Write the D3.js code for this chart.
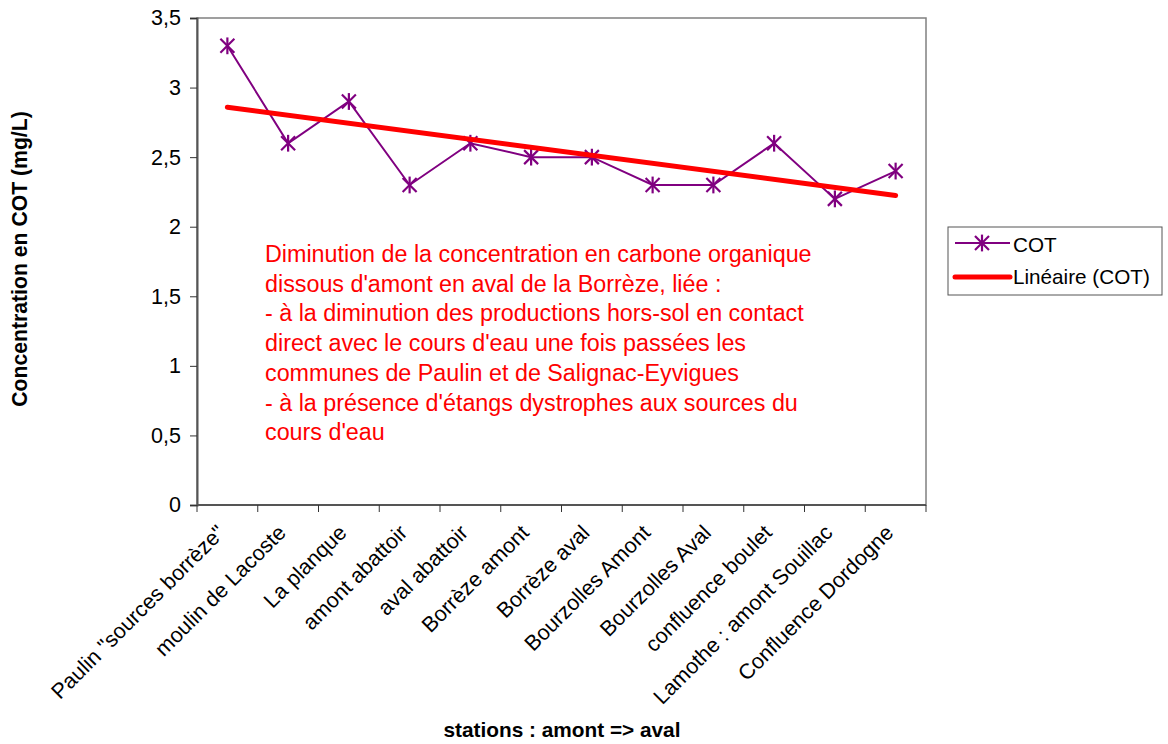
<!DOCTYPE html>
<html>
<head>
<meta charset="utf-8">
<script src="https://cdn.jsdelivr.net/npm/d3@7"></script>
<style>
  html, body { margin: 0; padding: 0; background: #fff; }
  svg { display: block; font-family: Arial, "Liberation Sans", sans-serif; }
</style>
</head>
<body>
<svg id="chart" width="1168" height="744"></svg>
<script>
// Stations from upstream to downstream
const stations = [
  'Paulin "sources borrèze"', "moulin de Lacoste", "La planque", "amont abattoir",
  "aval abattoir", "Borrèze amont", "Borrèze aval", "Bourzolles Amont",
  "Bourzolles Aval", "confluence boulet", "Lamothe : amont Souillac", "Confluence Dordogne"
];
// Total organic carbon (mg/L)
const cot = [3.3, 2.6, 2.9, 2.3, 2.6, 2.5, 2.5, 2.3, 2.3, 2.6, 2.2, 2.4];
const yTicks = [0, 0.5, 1, 1.5, 2, 2.5, 3, 3.5];
const noteLines = [
  "Diminution de la concentration en carbone organique",
  "dissous d'amont en aval de la Borrèze, liée :",
  "- à la diminution des productions hors-sol en contact",
  "direct avec le cours d'eau une fois passées les",
  "communes de Paulin et de Salignac-Eyvigues",
  "- à la présence d'étangs dystrophes aux sources du",
  "cours d'eau"
];

const svg = d3.select("#chart");
const plot = { left: 197, right: 926, top: 18, bottom: 505 };

const x = d3.scaleBand().domain(stations).range([plot.left, plot.right]);
const y = d3.scaleLinear().domain([0, 3.5]).range([plot.bottom, plot.top]);
const fmt = d => String(d).replace(".", ",");

// Plot frame
svg.append("rect")
  .attr("x", plot.left).attr("y", plot.top)
  .attr("width", plot.right - plot.left).attr("height", plot.bottom - plot.top)
  .attr("fill", "none").attr("stroke", "#808080").attr("stroke-width", 1.5);

// Y axis
const yAxis = svg.append("g")
  .attr("transform", `translate(${plot.left},0)`)
  .call(d3.axisLeft(y).tickValues(yTicks).tickFormat(fmt).tickSize(7).tickPadding(9));
yAxis.select(".domain").attr("stroke", "#555").attr("stroke-width", 2);
yAxis.selectAll(".tick line").attr("stroke", "#333");
yAxis.selectAll("text").attr("font-size", 21.5).attr("fill", "#000")
  .attr("font-family", "Arial, 'Liberation Sans', sans-serif");

// X axis: ticks sit on category boundaries
const xAxisG = svg.append("g").attr("transform", `translate(0,${plot.bottom})`);
xAxisG.append("line")
  .attr("x1", plot.left).attr("x2", plot.right)
  .attr("stroke", "#555").attr("stroke-width", 2);
const bounds = stations.map(s => x(s)).concat([plot.right]);
xAxisG.selectAll("line.tk").data(bounds).join("line")
  .attr("class", "tk")
  .attr("x1", d => d).attr("x2", d => d).attr("y1", 0).attr("y2", 7)
  .attr("stroke", "#333");
xAxisG.selectAll("text.lbl").data(stations).join("text")
  .attr("class", "lbl")
  .attr("text-anchor", "end")
  .attr("font-size", 21.5)
  .attr("transform", d => `translate(${x(d) + x.bandwidth() / 2 - 1},${29}) rotate(-45)`)
  .text(d => d);

// Linear trend (least squares over station index)
const n = cot.length;
const xs = d3.range(1, n + 1);
const mx = d3.mean(xs), my = d3.mean(cot);
const slope = d3.sum(xs, (v, i) => (v - mx) * (cot[i] - my)) / d3.sum(xs, v => (v - mx) ** 2);
const icpt = my - slope * mx;
const trend = [stations[0], stations[n - 1]].map((s, k) => [s, icpt + slope * (k === 0 ? 1 : n)]);

const cx = s => x(s) + x.bandwidth() / 2;

// COT series
svg.append("path")
  .datum(cot)
  .attr("fill", "none").attr("stroke", "#800080").attr("stroke-width", 2)
  .attr("d", d3.line().x((d, i) => cx(stations[i])).y(d => y(d)));

// Asterisk markers
const star = (g, r) => {
  g.append("line").attr("x1", -r).attr("y1", -r).attr("x2", r).attr("y2", r);
  g.append("line").attr("x1", -r).attr("y1", r).attr("x2", r).attr("y2", -r);
  g.append("line").attr("x1", 0).attr("y1", -r * 1.2).attr("x2", 0).attr("y2", r * 1.2);
};
svg.selectAll("g.mk").data(cot).join("g")
  .attr("class", "mk")
  .attr("transform", (d, i) => `translate(${cx(stations[i])},${y(d)})`)
  .attr("stroke", "#800080").attr("stroke-width", 2.2)
  .each(function () { star(d3.select(this), 7); });

// Trend line
svg.append("path")
  .datum(trend)
  .attr("fill", "none").attr("stroke", "#ff0000").attr("stroke-width", 5)
  .attr("stroke-linecap", "round")
  .attr("d", d3.line().x(d => cx(d[0])).y(d => y(d[1])));

// Annotation
const note = svg.append("text")
  .attr("fill", "#ff0000").attr("font-size", 23.3);
note.selectAll("tspan").data(noteLines).join("tspan")
  .attr("x", 265).attr("y", (d, i) => 262 + i * 29.7)
  .text(d => d);

// Legend
const lg = svg.append("g").attr("transform", "translate(948,227)");
lg.append("rect").attr("width", 214).attr("height", 68)
  .attr("fill", "#fff").attr("stroke", "#555").attr("stroke-width", 1);
lg.append("line").attr("x1", 7).attr("x2", 62).attr("y1", 16).attr("y2", 16)
  .attr("stroke", "#800080").attr("stroke-width", 2);
const lgStar = lg.append("g").attr("transform", "translate(34,16)")
  .attr("stroke", "#800080").attr("stroke-width", 2.2);
star(lgStar, 7);
lg.append("text").attr("x", 65).attr("y", 25).attr("font-size", 20.7).text("COT");
lg.append("line").attr("x1", 7).attr("x2", 62).attr("y1", 50).attr("y2", 50)
  .attr("stroke", "#ff0000").attr("stroke-width", 5).attr("stroke-linecap", "round");
lg.append("text").attr("x", 65).attr("y", 57).attr("font-size", 20.7).text("Linéaire (COT)");

// Axis titles
svg.append("text")
  .attr("transform", "translate(27,259) rotate(-90)")
  .attr("text-anchor", "middle").attr("font-weight", "bold").attr("font-size", 21.2)
  .text("Concentration en COT (mg/L)");
svg.append("text")
  .attr("x", 562).attr("y", 737)
  .attr("text-anchor", "middle").attr("font-weight", "bold").attr("font-size", 20.8)
  .text("stations : amont => aval");
</script>
</body>
</html>
